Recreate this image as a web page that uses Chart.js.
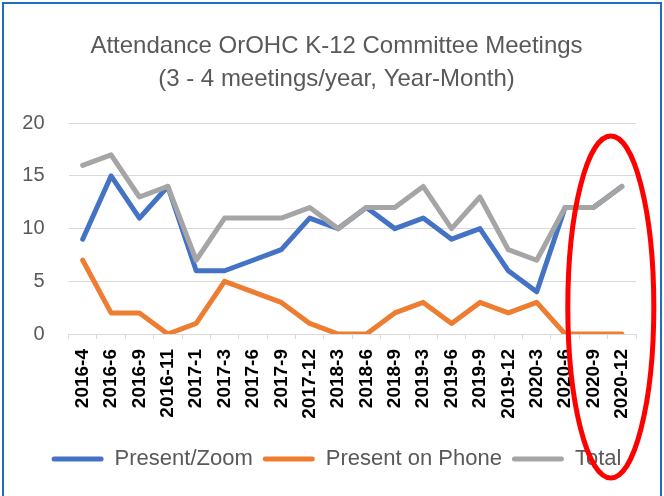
<!DOCTYPE html>
<html>
<head>
<meta charset="utf-8">
<script src="https://cdn.jsdelivr.net/npm/chart.js@4/dist/chart.umd.min.js"></script>
<style>
  html, body { margin: 0; padding: 0; background: #ffffff; }
  #c { display: block; }
</style>
</head>
<body>
<canvas id="c" width="664" height="496"></canvas>
<script>
const titleLines = ["Attendance OrOHC K-12 Committee Meetings", "(3 - 4 meetings/year, Year-Month)"];
const categories = ["2016-4","2016-6","2016-9","2016-11","2017-1","2017-3","2017-6","2017-9","2017-12","2018-3","2018-6","2018-9","2019-3","2019-6","2019-9","2019-12","2020-3","2020-6","2020-9","2020-12"];
const presentZoom  = [9, 15, 11, 14, 6, 6, 7, 8, 11, 10, 12, 10, 11, 9, 10, 6, 4, 12, 12, 14];
const presentPhone = [7, 2, 2, 0, 1, 5, 4, 3, 1, 0, 0, 2, 3, 1, 3, 2, 3, 0, 0, 0];
const total        = [16, 17, 13, 14, 7, 11, 11, 11, 12, 10, 12, 12, 14, 10, 13, 8, 7, 12, 12, 14];
const yTickValues  = [0, 5, 10, 15, 20];
const seriesNames  = ["Present/Zoom", "Present on Phone", "Total"];

const TEXT = "#595959";
const GRID = "#D9D9D9";

const framePlugin = {
  id: 'frame',
  beforeDraw(chart) {
    const ctx = chart.ctx;
    ctx.save();
    ctx.fillStyle = '#ffffff';
    ctx.fillRect(0, 0, chart.width, chart.height);
    ctx.strokeStyle = '#1B6EC2';
    ctx.lineWidth = 2;
    ctx.strokeRect(3, 3, chart.width - 6, chart.height + 10);
    ctx.restore();
  },
  afterDraw(chart) {
    // red highlight ellipse around the last categories
    const ctx = chart.ctx;
    const x = chart.scales.x;
    const cx = x.getPixelForValue(19) - 11;
    ctx.save();
    ctx.strokeStyle = '#FF0000';
    ctx.lineWidth = 5;
    ctx.beginPath();
    ctx.ellipse(cx, 307, 43, 171, 0, 0, Math.PI * 2);
    ctx.stroke();
    ctx.restore();
  }
};

function ds(label, data, color, order) {
  return {
    label, data,
    borderColor: color,
    backgroundColor: color,
    borderWidth: 5,
    pointRadius: 0,
    pointHoverRadius: 0,
    tension: 0,
    fill: false,
    borderJoinStyle: 'round',
    borderCapStyle: 'round',
    yAxisID: 'y',
    order
  };
}

new Chart(document.getElementById('c'), {
  type: 'line',
  data: {
    labels: categories,
    datasets: [
      ds(seriesNames[0], presentZoom, '#4472C4', 2),
      ds(seriesNames[1], presentPhone, '#ED7D31', 1),
      ds(seriesNames[2], total, '#A5A5A5', 0)
    ]
  },
  plugins: [framePlugin],
  options: {
    responsive: false,
    devicePixelRatio: 1,
    animation: false,
    layout: { padding: { left: 9, right: 0, top: 0, bottom: 16 } },
    plugins: {
      tooltip: { enabled: false },
      title: {
        display: true,
        text: titleLines,
        color: TEXT,
        font: { family: 'Liberation Sans', size: 24, weight: 'normal', lineHeight: 1.38 },
        padding: { top: 30, bottom: 27 }
      },
      legend: {
        position: 'bottom',
        labels: {
          color: TEXT,
          font: { family: 'Liberation Sans', size: 22 },
          boxWidth: 52,
          boxHeight: 5,
          padding: 10,
          useBorderRadius: true,
          borderRadius: 2.5,
          sort: (a, b) => a.datasetIndex - b.datasetIndex,
          generateLabels(chart) {
            const items = Chart.defaults.plugins.legend.labels.generateLabels(chart);
            items.forEach(it => {
              const d = chart.data.datasets[it.datasetIndex];
              it.fillStyle = d.borderColor;
              it.strokeStyle = d.borderColor;
              it.lineWidth = 0;
            });
            return items;
          }
        }
      }
    },
    scales: {
      x: {
        type: 'category',
        offset: true,
        grid: {
          offset: true,
          drawOnChartArea: false,
          drawTicks: true,
          tickLength: 5,
          color: GRID,
          lineWidth: 1
        },
        border: { display: true, color: GRID, width: 1 },
        ticks: {
          autoSkip: false,
          minRotation: 90,
          maxRotation: 90,
          padding: 10,
          color: '#000000',
          font: { family: 'Liberation Sans', size: 19, weight: 'bold' }
        },
        afterFit(scale) { scale.height = 104; }
      },
      y: {
        position: 'left',
        min: 0,
        max: 20,
        afterBuildTicks(scale) { scale.ticks = yTickValues.map(v => ({ value: v })); },
        grid: { color: GRID, lineWidth: 1, drawTicks: false },
        border: { display: false },
        ticks: {
          padding: 24,
          color: TEXT,
          font: { family: 'Liberation Sans', size: 20 }
        },
        afterFit(scale) { scale.width = 59.5; }
      },
      yRightSpace: {
        position: 'right',
        display: true,
        min: 0,
        max: 20,
        grid: { display: false, drawTicks: false },
        border: { display: false },
        ticks: { display: false },
        afterFit(scale) { scale.width = 28; }
      }
    }
  }
});
</script>
</body>
</html>
